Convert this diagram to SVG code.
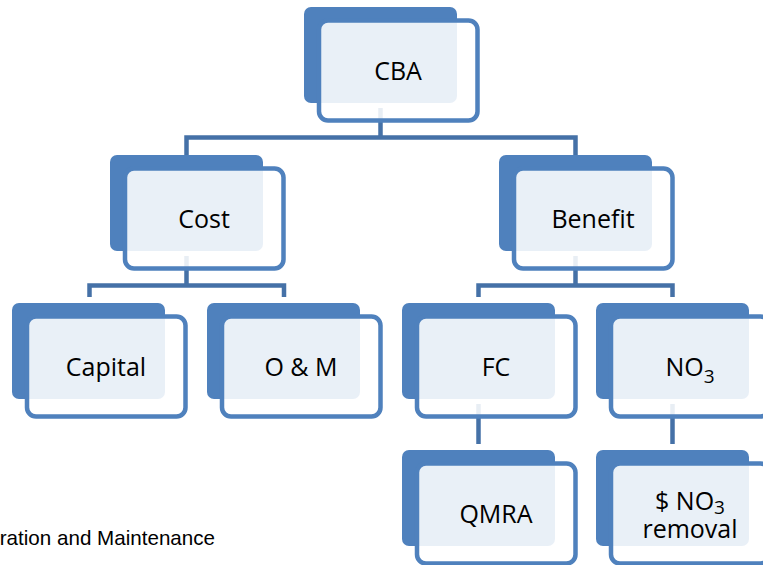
<svg xmlns="http://www.w3.org/2000/svg" width="763" height="565" viewBox="0 0 763 565">
<style>
.bk{fill:#4F81BD}
.fr{fill:#FFFFFF;fill-opacity:0.88;stroke:#4F81BD;stroke-width:4.5}
.cn{fill:none;stroke:#4571A7;stroke-width:4.5;stroke-linecap:butt;stroke-linejoin:miter}
.lb{font-family:"Open Sans","Noto Sans",sans-serif;font-size:25px;fill:#000;text-anchor:middle}
.nt{font-family:"Liberation Sans",Arial,sans-serif;font-size:20.6px;fill:#000;text-anchor:end}
</style>
<rect width="763" height="565" fill="#FFFFFF"/>
<g id="connectors">
<path class="cn" d="M380.5,108 V137.5 M186.5,155 V137.5 H575.5 V155"/>
<path class="cn" d="M186.5,256 V285.5 M89.5,297 V285.5 H284 V297"/>
<path class="cn" d="M575.5,256 V285.5 M478.5,297 V285.5 H672.5 V297"/>
<path class="cn" d="M478.5,404 V444"/>
<path class="cn" d="M672.5,404 V444"/>
</g>
<g id="node-cba">
<rect class="bk" x="304" y="7" width="153" height="96" rx="7"/>
<rect class="fr" x="319" y="20.5" width="158.5" height="100" rx="9"/>
<text class="lb" x="398" y="79.5">CBA</text>
</g>
<g id="node-cost">
<rect class="bk" x="110" y="155" width="153" height="96" rx="7"/>
<rect class="fr" x="125" y="168.5" width="158.5" height="100" rx="9"/>
<text class="lb" x="204" y="227.5">Cost</text>
</g>
<g id="node-benefit">
<rect class="bk" x="499" y="155" width="153" height="96" rx="7"/>
<rect class="fr" x="514" y="168.5" width="158.5" height="100" rx="9"/>
<text class="lb" x="593" y="227.5">Benefit</text>
</g>
<g id="node-capital">
<rect class="bk" x="12" y="303" width="153" height="96" rx="7"/>
<rect class="fr" x="27" y="316.5" width="158.5" height="100" rx="9"/>
<text class="lb" x="106" y="375.5">Capital</text>
</g>
<g id="node-om">
<rect class="bk" x="207" y="303" width="153" height="96" rx="7"/>
<rect class="fr" x="222" y="316.5" width="158.5" height="100" rx="9"/>
<text class="lb" x="301" y="375.5">O &amp; M</text>
</g>
<g id="node-fc">
<rect class="bk" x="402" y="303" width="153" height="96" rx="7"/>
<rect class="fr" x="417" y="316.5" width="158.5" height="100" rx="9"/>
<text class="lb" x="496" y="375.5">FC</text>
</g>
<g id="node-no3">
<rect class="bk" x="596" y="303" width="153" height="96" rx="7"/>
<rect class="fr" x="611" y="316.5" width="158.5" height="100" rx="9"/>
<text class="lb" x="690" y="375.5">NO<tspan font-size="19" dy="7">3</tspan></text>
</g>
<g id="node-qmra">
<rect class="bk" x="402" y="450" width="153" height="96" rx="7"/>
<rect class="fr" x="417" y="463.5" width="158.5" height="100" rx="9"/>
<text class="lb" x="496" y="522.5">QMRA</text>
</g>
<g id="node-no3-removal">
<rect class="bk" x="596" y="450" width="153" height="96" rx="7"/>
<rect class="fr" x="611" y="463.5" width="158.5" height="100" rx="9"/>
<text class="lb" x="690" y="509.5">$ NO<tspan font-size="19" dy="4">3</tspan></text>
<text class="lb" x="690" y="537.5">removal</text>
</g>
<text class="nt" x="215" y="545">ration and Maintenance</text>
</svg>
